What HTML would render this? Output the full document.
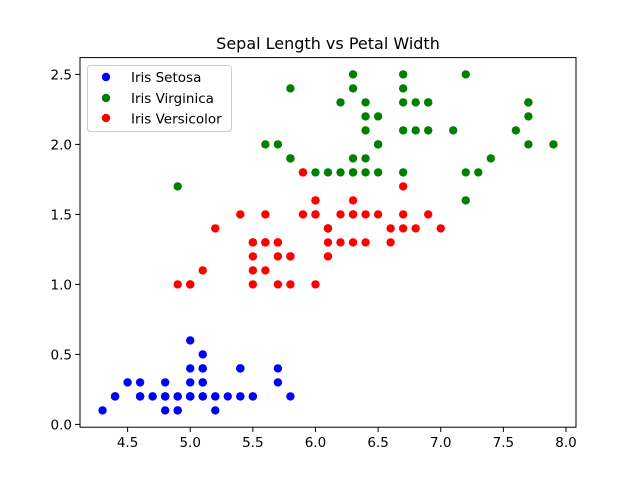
<!DOCTYPE html>
<html><head><meta charset="utf-8"><style>
html,body{margin:0;padding:0;background:#fff}
svg{display:block;font-family:"DejaVu Sans","Liberation Sans",sans-serif}
</style></head><body>
<svg id="chart" width="640" height="480" viewBox="0 0 640 480">
<rect width="640" height="480" fill="#fff"/>
<text x="328" y="49" font-size="16" text-anchor="middle" fill="#000">Sepal Length vs Petal Width</text>
<g id="marks"></g>
<g id="axes"></g>
<rect x="80" y="57.6" width="496" height="369.6" fill="none" stroke="#000" stroke-width="1"/>
<g>
<rect x="87.5" y="65.5" width="144" height="66" rx="3" fill="#fff" fill-opacity="0.8" stroke="#ccc"/>
<g><circle cx="106" cy="77" r="4.2" fill="#0000ff"/><text x="131" y="82" font-size="13.5">Iris Setosa</text></g>
<g><circle cx="106" cy="98" r="4.2" fill="#008000"/><text x="131" y="103" font-size="13.5">Iris Virginica</text></g>
<g><circle cx="106" cy="118" r="4.2" fill="#ff0000"/><text x="131" y="123.5" font-size="13.5">Iris Versicolor</text></g>
</g>
</svg>
<script>
const setosaX=[5.1,4.9,4.7,4.6,5.0,5.4,4.6,5.0,4.4,4.9,5.4,4.8,4.8,4.3,5.8,5.7,5.4,5.1,5.7,5.1,5.4,5.1,4.6,5.1,4.8,5.0,5.0,5.2,5.2,4.7,4.8,5.4,5.2,5.5,4.9,5.0,5.5,4.9,4.4,5.1,5.0,4.5,4.4,5.0,5.1,4.8,5.1,4.6,5.3,5.0];
const setosaY=[0.2,0.2,0.2,0.2,0.2,0.4,0.3,0.2,0.2,0.1,0.2,0.2,0.1,0.1,0.2,0.4,0.4,0.3,0.3,0.3,0.2,0.4,0.2,0.5,0.2,0.2,0.4,0.2,0.2,0.2,0.2,0.4,0.1,0.2,0.2,0.2,0.2,0.1,0.2,0.2,0.3,0.3,0.2,0.6,0.4,0.3,0.2,0.2,0.2,0.2];
const virginicaX=[6.3,5.8,7.1,6.3,6.5,7.6,4.9,7.3,6.7,7.2,6.5,6.4,6.8,5.7,5.8,6.4,6.5,7.7,7.7,6.0,6.9,5.6,7.7,6.3,6.7,7.2,6.2,6.1,6.4,7.2,7.4,7.9,6.4,6.3,6.1,7.7,6.3,6.4,6.0,6.9,6.7,6.9,5.8,6.8,6.7,6.7,6.3,6.5,6.2,5.9];
const virginicaY=[2.5,1.9,2.1,1.8,2.2,2.1,1.7,1.8,1.8,2.5,2.0,1.9,2.1,2.0,2.4,2.3,1.8,2.2,2.3,1.5,2.3,2.0,2.0,1.8,2.1,1.8,1.8,1.8,2.1,1.6,1.9,2.0,2.2,1.5,1.4,2.3,2.4,1.8,1.8,2.1,2.4,2.3,1.9,2.3,2.5,2.3,1.9,2.0,2.3,1.8];
const versicolorX=[7.0,6.4,6.9,5.5,6.5,5.7,6.3,4.9,6.6,5.2,5.0,5.9,6.0,6.1,5.6,6.7,5.6,5.8,6.2,5.6,5.9,6.1,6.3,6.1,6.4,6.6,6.8,6.7,6.0,5.7,5.5,5.5,5.8,6.0,5.4,6.0,6.7,6.3,5.6,5.5,5.5,6.1,5.8,5.0,5.6,5.7,5.7,6.2,5.1,5.7];
const versicolorY=[1.4,1.5,1.5,1.3,1.5,1.3,1.6,1.0,1.3,1.4,1.0,1.5,1.0,1.4,1.3,1.4,1.5,1.0,1.5,1.1,1.8,1.3,1.5,1.2,1.3,1.4,1.4,1.7,1.5,1.0,1.1,1.0,1.2,1.6,1.5,1.6,1.5,1.3,1.3,1.3,1.2,1.4,1.2,1.0,1.3,1.2,1.3,1.3,1.1,1.3];
const xTicks=[4.5,5.0,5.5,6.0,6.5,7.0,7.5,8.0];
const yTicks=[0.0,0.5,1.0,1.5,2.0,2.5];

const NS="http://www.w3.org/2000/svg";
const L=80,R=576,T=57.6,B=427.2;
const allX=setosaX.concat(virginicaX,versicolorX), allY=setosaY.concat(virginicaY,versicolorY);
let x0=Math.min(...allX),x1=Math.max(...allX),y0=Math.min(...allY),y1=Math.max(...allY);
const mx=(x1-x0)*0.05,my=(y1-y0)*0.05;x0-=mx;x1+=mx;y0-=my;y1+=my;
const sx=v=>L+(v-x0)/(x1-x0)*(R-L);
const sy=v=>B-(v-y0)/(y1-y0)*(B-T);
const marks=document.getElementById('marks'),axes=document.getElementById('axes');
function series(xs,ys,color,name){
  const g=document.createElementNS(NS,'g');
  
  
  xs.forEach((v,i)=>{
    const c=document.createElementNS(NS,'circle');
    c.setAttribute('cx',sx(v));c.setAttribute('cy',sy(ys[i]));c.setAttribute('r',4.2);c.setAttribute('fill',color);
    
    
    g.appendChild(c);
  });
  marks.appendChild(g);
}
series(setosaX,setosaY,'#0000ff','series-setosa');
series(virginicaX,virginicaY,'#008000','series-virginica');
series(versicolorX,versicolorY,'#ff0000','series-versicolor');
xTicks.forEach(t=>{
  const x=sx(t);
  const l=document.createElementNS(NS,'line');
  l.setAttribute('x1',x);l.setAttribute('x2',x);l.setAttribute('y1',B);l.setAttribute('y2',B+4.9);l.setAttribute('stroke','#000');
  
  
  axes.appendChild(l);
  const tx=document.createElementNS(NS,'text');
  tx.setAttribute('x',x);tx.setAttribute('y',B+20);tx.setAttribute('font-size','13.5');tx.setAttribute('text-anchor','middle');
  tx.textContent=t.toFixed(1);
  
  
  axes.appendChild(tx);
});
yTicks.forEach(t=>{
  const y=sy(t);
  const l=document.createElementNS(NS,'line');
  l.setAttribute('x1',L-4.9);l.setAttribute('x2',L);l.setAttribute('y1',y);l.setAttribute('y2',y);l.setAttribute('stroke','#000');
  
  
  axes.appendChild(l);
  const tx=document.createElementNS(NS,'text');
  tx.setAttribute('x',L-8);tx.setAttribute('y',y+5);tx.setAttribute('font-size','13.5');tx.setAttribute('text-anchor','end');
  tx.textContent=t.toFixed(1);
  
  
  axes.appendChild(tx);
});
</script>
</body></html>
